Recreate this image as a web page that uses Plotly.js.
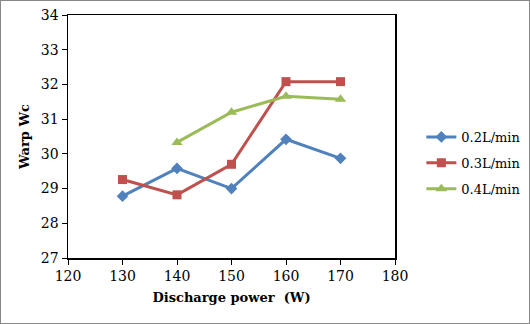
<!DOCTYPE html>
<html><head><meta charset="utf-8">
<script src="https://cdn.plot.ly/plotly-3.0.1.min.js"></script>
<style>body{margin:0;padding:0;background:#fff}#wrap{position:relative;width:530px;height:324px}#frame{position:absolute;left:0;top:0;width:528px;height:322px;border:1px solid #888;pointer-events:none}</style>
</head><body><div id="wrap"><div id="chart" style="width:530px;height:324px"></div><div id="frame"></div></div>
<script>
var power = [130, 140, 150, 160, 170];
var flow02 = [28.78, 29.58, 29.0, 30.42, 29.87];
var flow03 = [29.26, 28.82, 29.7, 32.08, 32.08];
var power04 = [140, 150, 160, 170];
var flow04 = [30.33, 31.2, 31.66, 31.57];
var seriesNames = ['0.2L/min', '0.3L/min', '0.4L/min'];
var colors = ['#4F81BD', '#C0504D', '#9BBB59'];
var font = 'DejaVu Serif';
var traces = [
 {x: power, y: flow02, name: seriesNames[0], legendgroup: 'a', mode: 'lines+markers', line: {color: colors[0], width: 3}, marker: {symbol: 'diamond', size: 9, color: colors[0]}},
 {x: power, y: flow03, name: seriesNames[1], legendgroup: 'b', mode: 'lines+markers', line: {color: colors[1], width: 3}, marker: {symbol: 'square', size: 9, color: colors[1]}},
 {x: power04, y: flow04, name: seriesNames[2], legendgroup: 'c', mode: 'lines+markers', line: {color: colors[2], width: 3}, marker: {symbol: 'triangle-up', size: 10, color: colors[2]}}
];
var layout = {
 width: 530, height: 324,
 margin: {l: 68, r: 135, t: 15, b: 66},
 paper_bgcolor: '#fff', plot_bgcolor: '#fff',
 font: {family: font, size: 14, color: '#000'},
 showlegend: true,
 legend: {xref: 'container', yref: 'container', x: 0.795, y: 0.497, xanchor: 'left', yanchor: 'middle', font: {family: font, size: 13}, traceorder: 'grouped', tracegroupgap: 6, itemwidth: 30},
 xaxis: {range: [120, 180], dtick: 10, tick0: 120, showgrid: false, zeroline: false, showline: true, linecolor: '#000', linewidth: 1.5, mirror: true, ticks: 'outside', ticklen: 5, tickcolor: '#000',
   title: {text: '<b>Discharge power  (W)</b>', font: {family: font, size: 13}, standoff: 9}},
 yaxis: {range: [27, 34], dtick: 1, showgrid: false, zeroline: false, showline: true, linecolor: '#000', linewidth: 1.5, mirror: true, ticks: 'outside', ticklen: 5, tickcolor: '#000',
   title: {text: '<b>Warp Wc</b>', font: {family: font, size: 13}, standoff: 8}}
};
Plotly.newPlot('chart', traces, layout, {displayModeBar: false, staticPlot: true});
</script></body></html>
